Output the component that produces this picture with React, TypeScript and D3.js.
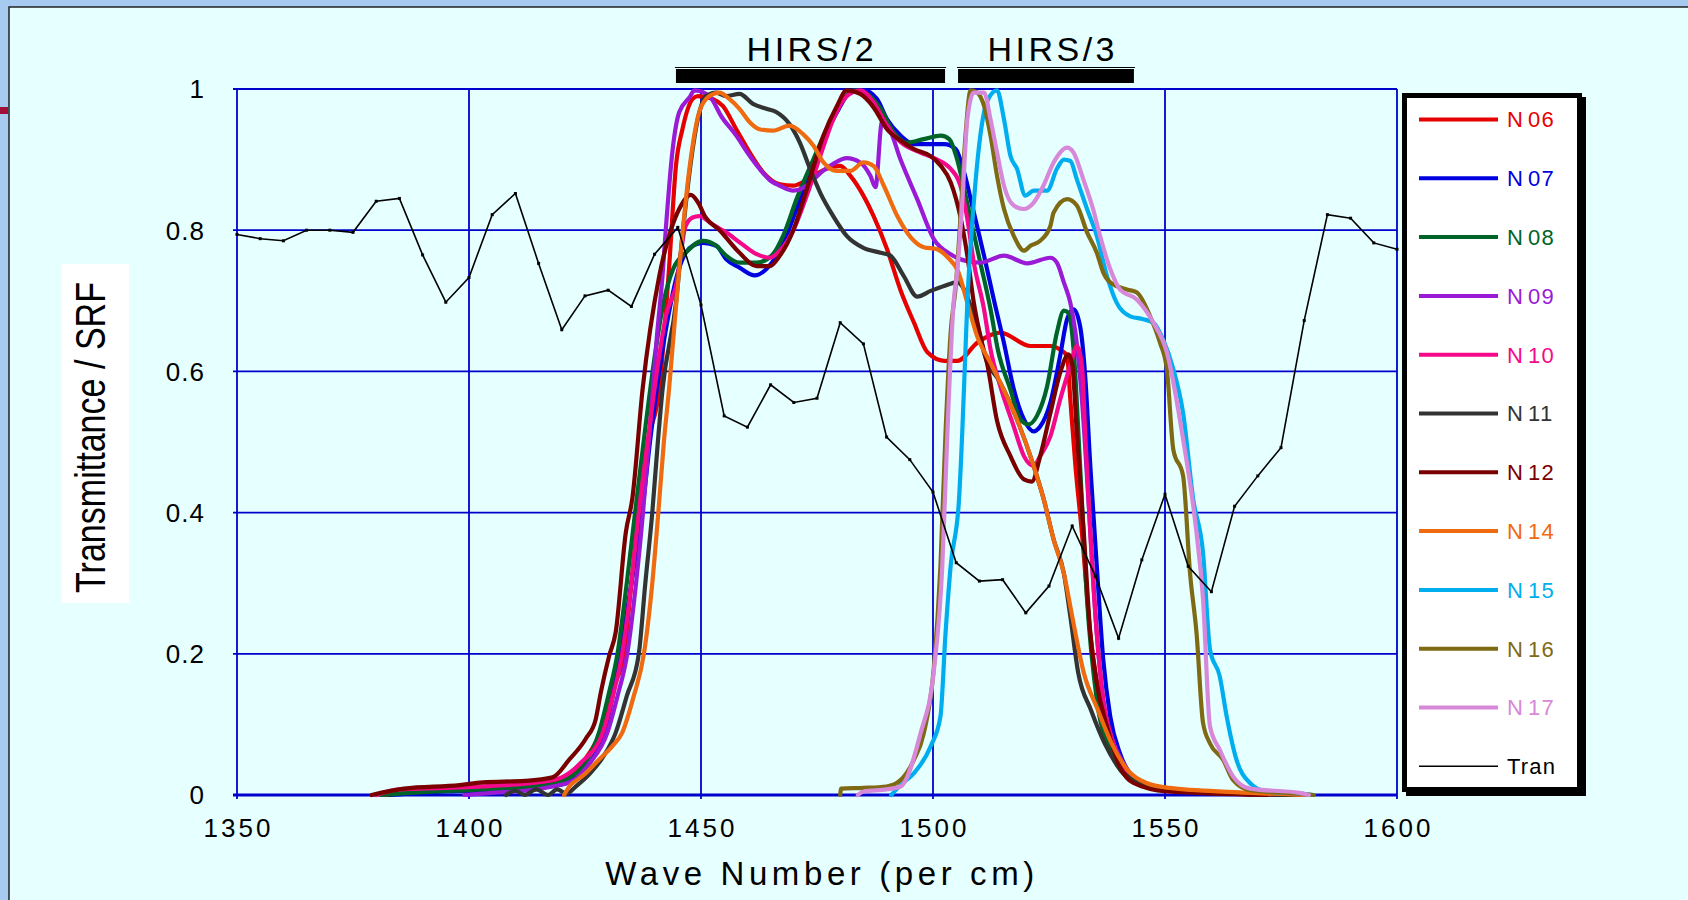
import React from "react";
import * as d3 from "d3";

type P = [number, number];

const xTicks = [1350, 1400, 1450, 1500, 1550, 1600];
const yTicks = [0, 0.2, 0.4, 0.6, 0.8, 1];
const yTickLabels = ["0", "0.2", "0.4", "0.6", "0.8", "1"];

const N06: P[] = [[1382,0],[1390,.005],[1400,.008],[1410,.012],[1418,.018],[1422,.03],[1426,.06],[1429,.1],[1431,.15],[1433.4,.2],[1435,.3],[1436.5,.4],[1438.5,.5],[1441,.574],[1443.1,.745],[1444.6,.891],[1446,.943],[1448.2,.986],[1449.3,.99],[1452.5,.986],[1454.7,.976],[1457.6,.943],[1460.5,.91],[1463.4,.882],[1467,.865],[1469.9,.863],[1472,.868],[1474.2,.877],[1477.1,.887],[1480,.891],[1482.2,.877],[1485,.849],[1487.2,.82],[1490.1,.773],[1493,.715],[1495.9,.669],[1498.8,.627],[1502.4,.615],[1505.3,.615],[1509.6,.641],[1514.5,.655],[1521,.636],[1525.3,.636],[1527.4,.631],[1528.9,.622],[1529.6,.56],[1530.7,.466],[1532.1,.371],[1533.9,.229],[1536,.135],[1538.9,.064],[1543.2,.021],[1550.4,.007],[1564.7,.002],[1578,0]];
const N07: P[] = [[1383,0],[1395,.005],[1410,.008],[1420,.015],[1424,.03],[1428,.07],[1430,.11],[1432.6,.2],[1435,.3],[1437.3,.4],[1439,.5],[1441,.6],[1443,.68],[1445,.74],[1446.7,.768],[1448.2,.778],[1450.4,.782],[1453.3,.778],[1455.4,.759],[1458.3,.747],[1461.6,.736],[1464.1,.745],[1466.3,.764],[1468.4,.792],[1470.6,.83],[1473.5,.877],[1476.4,.929],[1479.3,.967],[1482.2,.995],[1485,.998],[1487.9,.986],[1490.1,.957],[1493,.934],[1495.9,.922],[1502.4,.922],[1504.9,.915],[1506.7,.882],[1508.8,.825],[1511,.764],[1513.1,.702],[1515.3,.64],[1517.4,.575],[1519.6,.532],[1521.7,.515],[1523.1,.522],[1525.3,.556],[1527.4,.622],[1528.9,.674],[1530.3,.688],[1531.7,.664],[1532.8,.593],[1533.9,.466],[1535.3,.324],[1536.7,.191],[1538.2,.111],[1540.3,.059],[1543.2,.026],[1550.4,.008],[1564.7,.002],[1578,0]];
const N08: P[] = [[1381,0],[1390,.004],[1400,.007],[1410,.01],[1418,.015],[1421,.022],[1425,.045],[1428,.088],[1430,.14],[1432,.2],[1434,.3],[1435.8,.4],[1438,.52],[1440,.62],[1442,.7],[1444,.745],[1446.7,.768],[1450.4,.785],[1453.3,.778],[1455.4,.764],[1458.3,.754],[1462,.754],[1465.5,.766],[1467.7,.792],[1470.6,.844],[1474.2,.9],[1477.8,.953],[1480.7,.986],[1482.9,.998],[1485.8,.993],[1488.7,.972],[1491.5,.939],[1494.4,.924],[1498,.929],[1501.7,.934],[1503.5,.929],[1505,.905],[1506.5,.865],[1508.1,.816],[1510.2,.754],[1512.4,.688],[1514,.63],[1516.7,.574],[1518.8,.532],[1520.6,.525],[1522.4,.537],[1524.6,.579],[1526.7,.655],[1528.2,.686],[1529.2,.683],[1530.3,.631],[1531.7,.466],[1533.2,.277],[1535.3,.135],[1538.2,.064],[1541.8,.026],[1550.4,.007],[1564.7,.002],[1575,0]];
const N09: P[] = [[1399,0],[1405,.003],[1412,.006],[1418,.012],[1422.3,.02],[1426,.045],[1429.8,.088],[1432,.14],[1434.1,.2],[1436,.3],[1437.5,.4],[1439,.52],[1440.5,.65],[1441.7,.735],[1442.4,.8],[1443.9,.915],[1445.3,.967],[1447.5,.988],[1448.6,.998],[1451.8,.99],[1454.5,.96],[1457.6,.934],[1460,.91],[1462.6,.887],[1465,.87],[1467,.863],[1469.9,.856],[1472,.86],[1474.2,.872],[1476.5,.885],[1478.5,.894],[1481.4,.902],[1484.3,.896],[1486.5,.877],[1487.6,.861],[1489,.953],[1490.5,.945],[1493,.9],[1496.6,.844],[1500.2,.787],[1503.8,.766],[1507.4,.756],[1510.2,.754],[1515.3,.764],[1520.3,.753],[1525.3,.761],[1526.7,.754],[1528.2,.726],[1529.6,.697],[1530.7,.655],[1532.1,.56],[1533.5,.418],[1535.3,.229],[1536.7,.135],[1538.2,.087],[1540.3,.054],[1543.2,.026],[1549.6,.009],[1565,.003],[1579,0]];
const N10: P[] = [[1380,0],[1385,.008],[1395,.01],[1405,.013],[1415,.018],[1420,.025],[1424,.045],[1428.8,.088],[1431,.14],[1433,.2],[1435,.3],[1436.6,.4],[1438.5,.5],[1440.5,.6],[1442.5,.68],[1444.6,.721],[1446.7,.806],[1448.2,.818],[1449.6,.82],[1452.5,.808],[1455.4,.797],[1458.3,.783],[1462,.766],[1464.8,.761],[1467,.771],[1469.9,.8],[1472.8,.849],[1475.7,.905],[1478.5,.957],[1481.4,.99],[1484.3,.998],[1487.2,.981],[1490.1,.948],[1493,.925],[1497.3,.91],[1500.9,.9],[1503.8,.887],[1505.9,.863],[1507.4,.816],[1508.8,.754],[1511,.688],[1512.4,.631],[1514.5,.579],[1517.4,.522],[1519.6,.48],[1521.7,.466],[1523.1,.48],[1525.3,.508],[1527.4,.56],[1529.6,.608],[1531,.636],[1532.1,.608],[1532.8,.513],[1533.9,.371],[1535.3,.229],[1536.7,.135],[1538.9,.073],[1541.8,.031],[1550.4,.008],[1564.7,.002],[1578,0]];
const N11: P[] = [[1408,0],[1410,.006],[1412,0],[1414.5,.008],[1417,0],[1419,.008],[1421,.002],[1423,.012],[1426,.03],[1429,.055],[1431.6,.088],[1434,.14],[1436.6,.2],[1438,.3],[1439.5,.4],[1440.7,.5],[1441.7,.574],[1444.6,.697],[1446,.792],[1447.8,.896],[1449.3,.957],[1451.1,.99],[1453.3,.995],[1455.4,.99],[1458.3,.993],[1461.2,.979],[1464.1,.972],[1466.3,.967],[1469.1,.95],[1471.3,.924],[1473.5,.887],[1475.7,.853],[1478.5,.82],[1481.4,.792],[1485,.775],[1488.7,.768],[1490.8,.764],[1493.7,.735],[1496.6,.706],[1499.5,.714],[1502.4,.721],[1505.2,.726],[1506.7,.716],[1508.1,.693],[1510.2,.65],[1511,.626],[1514.5,.584],[1518.1,.532],[1521.7,.466],[1523.9,.418],[1526,.362],[1528.2,.314],[1529.6,.253],[1531.3,.173],[1534,.121],[1537,.073],[1540.5,.035],[1545,.017],[1550.4,.008],[1565,.002],[1578,0]];
const N12: P[] = [[1379,0],[1386,.009],[1398,.014],[1403,.018],[1412,.02],[1418,.025],[1421.6,.05],[1425.2,.08],[1427.3,.107],[1428.4,.145],[1430.2,.197],[1431.6,.23],[1433.8,.372],[1435.2,.42],[1437.4,.574],[1441,.735],[1443.5,.8],[1445.3,.83],[1447.8,.85],[1449.3,.84],[1451,.818],[1454,.8],[1458.3,.768],[1462,.749],[1464.8,.749],[1467,.764],[1469.9,.8],[1472.8,.858],[1476.4,.934],[1479.3,.976],[1481.4,.998],[1484.3,.993],[1487.2,.974],[1490.1,.943],[1493,.927],[1495.9,.915],[1499.5,.905],[1501.7,.891],[1503.8,.868],[1506,.816],[1507.4,.764],[1508.8,.697],[1510.2,.65],[1511.7,.61],[1513.8,.53],[1516.7,.48],[1519.6,.447],[1521.3,.444],[1523.1,.48],[1525.3,.541],[1527.4,.598],[1529.2,.624],[1530,.61],[1531,.513],[1532.5,.371],[1533.9,.229],[1535.3,.158],[1537.5,.097],[1540.3,.04],[1543.2,.017],[1550.4,.005],[1572,0]];
const N14: P[] = [[1420.5,0],[1422,.015],[1423,.02],[1425,.03],[1428,.05],[1431,.07],[1433,.088],[1435.5,.14],[1437.7,.2],[1439.5,.3],[1440.8,.4],[1442,.5],[1443.1,.574],[1445.3,.745],[1447.5,.887],[1449.6,.967],[1451.8,.99],[1454,.995],[1456.1,.986],[1458.3,.972],[1460.5,.953],[1462.6,.943],[1465.5,.941],[1469.1,.948],[1472,.936],[1474.2,.92],[1476.4,.896],[1479.3,.884],[1482.2,.884],[1485,.896],[1487.2,.891],[1489.4,.863],[1492.3,.82],[1495.2,.79],[1498,.776],[1500.9,.773],[1503.1,.762],[1505.5,.74],[1507.4,.697],[1509.5,.65],[1512.4,.612],[1514.5,.584],[1518.1,.532],[1521.7,.466],[1523.9,.418],[1526,.362],[1528.2,.314],[1530,.253],[1532.5,.173],[1535.5,.121],[1538.5,.073],[1542,.035],[1546,.017],[1551,.01],[1565,.004],[1580,0]];
const N15: P[] = [[1491,0],[1493,.014],[1495.9,.031],[1499.5,.069],[1501.6,.111],[1502.7,.229],[1503.8,.324],[1505.6,.418],[1506.3,.513],[1507,.631],[1507.4,.697],[1508.8,.839],[1510.2,.934],[1511.7,.983],[1513.8,.998],[1515.3,.957],[1516.7,.905],[1518.1,.887],[1519.9,.849],[1521.7,.856],[1524.6,.856],[1526.7,.887],[1528.2,.9],[1529.6,.898],[1531,.872],[1533.2,.83],[1535.3,.792],[1537.5,.735],[1539.6,.697],[1542.5,.678],[1545.3,.674],[1547.5,.669],[1549.6,.645],[1551.8,.603],[1553.9,.541],[1556.1,.418],[1558.2,.343],[1559.7,.206],[1561.8,.168],[1563.3,.111],[1565.4,.05],[1568.3,.017],[1571.8,.005],[1579,.002],[1582,0]];
const N16: P[] = [[1480,0],[1480.2,.009],[1485,.01],[1490,.012],[1493,.021],[1495.9,.05],[1498,.087],[1500.2,.182],[1501.6,.324],[1502.7,.513],[1503.8,.655],[1504.9,.72],[1505.9,.816],[1507,.934],[1508.1,.998],[1509.5,.995],[1511,.976],[1512.4,.934],[1513.8,.877],[1515.3,.83],[1517.4,.792],[1519.6,.771],[1521,.778],[1523.1,.785],[1525.3,.806],[1526,.825],[1528.9,.844],[1531,.835],[1533.2,.797],[1535.3,.768],[1536.7,.74],[1538.2,.726],[1541.8,.716],[1543.9,.712],[1546.8,.678],[1548.9,.641],[1550.4,.603],[1551.8,.489],[1553.9,.452],[1555.4,.314],[1556.8,.229],[1558.2,.102],[1559.7,.073],[1562.5,.05],[1564.7,.021],[1568.3,.007],[1579,.002],[1582,0]];
const N17: P[] = [[1483.8,0],[1485,.005],[1490,.008],[1493,.012],[1497.3,.087],[1500.2,.177],[1502,.324],[1503.1,.513],[1504.5,.702],[1505.2,.74],[1506.3,.839],[1507.4,.957],[1508.8,.995],[1511,.995],[1512.4,.957],[1513.8,.91],[1515.3,.863],[1517.4,.835],[1519.6,.83],[1521.7,.839],[1523.8,.863],[1526,.896],[1528.9,.917],[1530.3,.91],[1532.4,.872],[1534.5,.83],[1536,.792],[1538.2,.745],[1540.3,.716],[1543.9,.702],[1547.5,.669],[1550.4,.627],[1553.9,.504],[1556.8,.371],[1558.2,.277],[1559.7,.097],[1561.8,.064],[1564.7,.026],[1568.3,.009],[1579,.003],[1581,0]];

const tranWave = [1350,1355,1360,1365,1370,1375,1380,1385,1390,1395,1400,1405,1410,1415,1420,1425,1430,1435,1440,1445,1450,1455,1460,1465,1470,1475,1480,1485,1490,1495,1500,1505,1510,1515,1520,1525,1530,1535,1540,1545,1550,1555,1560,1565,1570,1575,1580,1585,1590,1595,1600];
const tranValue = [.794,.788,.785,.8,.8,.797,.841,.845,.765,.698,.733,.822,.852,.753,.659,.707,.715,.692,.766,.804,.694,.537,.521,.581,.556,.562,.669,.639,.507,.475,.429,.329,.303,.305,.258,.296,.381,.31,.222,.333,.426,.324,.288,.409,.452,.492,.672,.822,.817,.782,.773];

const seriesNames = ["N06","N07","N08","N09","N10","N11","N12","N14","N15","N16","N17"];
const seriesData = [N06,N07,N08,N09,N10,N11,N12,N14,N15,N16,N17];
const seriesColors = ["#E60000","#0000E0","#006428","#9A1AD6","#F5088A","#333333","#7A0000","#F06A10","#00AEEF","#7F6A14","#D888D8"];

const bandNames = ["HIRS/2","HIRS/3"];
const bandRanges: P[] = [[1444.6,1502.6],[1505.4,1543.3]];
const bandLabelCenters = [1473.9, 1525.8];

const FONT = "'Liberation Sans', Arial, sans-serif";

export default function App() {
  React.useEffect(() => {
    document.body.style.margin = "0";
  }, []);
  const W = 1688, H = 900;
  const x = d3.scaleLinear().domain([1350, 1600]).range([237, 1397]);
  const y = d3.scaleLinear().domain([0, 1]).range([795, 89]);
  const line = d3.line<P>().x(d => x(d[0])).y(d => y(d[1])).curve(d3.curveMonotoneX);
  const tranPts: P[] = tranWave.map((w, i) => [w, tranValue[i]]);
  const tranLine = d3.line<P>().x(d => x(d[0])).y(d => y(d[1]));
  const gridColor = "#0000CC";

  const legX = 1402, legY = 93, legW = 180, legH = 699;
  const entries = [...seriesNames, "Tran"];
  const entryColors = [...seriesColors, "#000000"];

  return (
    <svg width={W} height={H} style={{ position: "absolute", left: 0, top: 0, display: "block" }} fontFamily={FONT}>
      <rect x={0} y={0} width={W} height={H} fill="#A6CAF0" />
      <rect x={9} y={7} width={W} height={H} fill="#E6FFFF" stroke="#222" strokeWidth={1.5} />
      <rect x={0} y={107} width={8} height={7} fill="#A0103A" />

      {/* grid */}
      {xTicks.map(t => (
        <line key={"gx" + t} x1={x(t)} x2={x(t)} y1={y(1)} y2={y(0) + 4} stroke={gridColor} strokeWidth={1.8} />
      ))}
      {yTicks.map(t => (
        <line key={"gy" + t} x1={x(1350) - 4} x2={x(1600)} y1={y(t)} y2={y(t)} stroke={gridColor} strokeWidth={t === 0 ? 3 : 1.8} />
      ))}

      {/* y title */}
      <rect x={62} y={264} width={67} height={339} fill="#FFFFFF" />
      <text transform="translate(105,437.5) rotate(-90)" textAnchor="middle" fontSize={42} textLength={311} lengthAdjust="spacingAndGlyphs" fill="#000">Transmittance / SRF</text>

      {/* tick labels */}
      {yTicks.map((t, i) => (
        <text key={"yl" + t} x={205} y={y(t)} dy="0.36em" textAnchor="end" fontSize={26} fill="#000" letterSpacing={1}>{yTickLabels[i]}</text>
      ))}
      {xTicks.map(t => (
        <text key={"xl" + t} x={x(t) + 1.5} y={837} textAnchor="middle" fontSize={26} fill="#000" letterSpacing={3}>{t}</text>
      ))}
      <text x={822} y={885} textAnchor="middle" fontSize={33} letterSpacing={4.6} fill="#000">Wave Number (per cm)</text>

      {/* HIRS bars */}
      {bandNames.map((b, i) => {
        const x0 = x(bandRanges[i][0]), x1 = x(bandRanges[i][1]);
        return (
          <g key={b}>
            <rect x={x0} y={69} width={x1 - x0} height={14} fill="#000" />
            <line x1={x0 - 1} x2={x1 + 1} y1={67.5} y2={67.5} stroke="#000" strokeWidth={1} />
            <text x={x(bandLabelCenters[i])} y={60.7} textAnchor="middle" fontSize={34} letterSpacing={3.5} fill="#000">{b}</text>
          </g>
        );
      })}

      {/* series */}
      {seriesData.map((d, i) => (
        <path key={seriesNames[i]} d={line(d) || ""} fill="none" stroke={seriesColors[i]} strokeWidth={4.2} strokeLinejoin="round" strokeLinecap="round" />
      ))}
      <path d={tranLine(tranPts) || ""} fill="none" stroke="#000" strokeWidth={1.6} />
      {tranPts.map((p, i) => (
        <rect key={"tm" + i} x={x(p[0]) - 1.5} y={y(p[1]) - 1.5} width={3} height={3} fill="#000" />
      ))}

      {/* legend */}
      <rect x={legX + 4} y={legY + 4} width={legW} height={legH} fill="#000" />
      <rect x={legX + 2.5} y={legY + 2.5} width={legW - 5} height={legH - 5} fill="#FFFFFF" stroke="#000" strokeWidth={5} />
      {entries.map((n, i) => {
        const yy = 119.5 + i * 58.8;
        const isTran = n === "Tran";
        return (
          <g key={"lg" + n}>
            <line x1={1419} x2={1498} y1={yy} y2={yy} stroke={entryColors[i]} strokeWidth={isTran ? 1.6 : 4} />
            <text x={1507} y={yy} dy="0.36em" fontSize={22} fill={entryColors[i]} letterSpacing={1.2}>
              {isTran ? n : (<><tspan>{n.slice(0, 1)}</tspan><tspan dx={4}>{n.slice(1)}</tspan></>)}
            </text>
          </g>
        );
      })}
    </svg>
  );
}
